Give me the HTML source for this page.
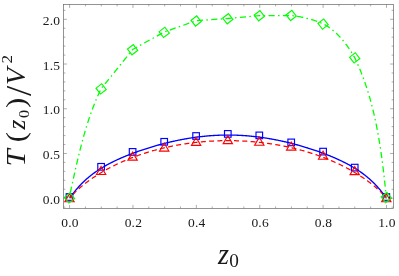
<!DOCTYPE html>
<html>
<head>
<meta charset="utf-8">
<title>T(z0)/V^2 vs z0</title>
<style>
html,body{margin:0;padding:0;background:#ffffff;}
body{width:399px;height:276px;overflow:hidden;font-family:"Liberation Serif",serif;}
svg{display:block;will-change:transform;opacity:0.999;}
</style>
</head>
<body>
<svg width="399" height="276" viewBox="0 0 399 276">
<rect x="0" y="0" width="399" height="276" fill="#ffffff"/>
<path d="M69.60,198.20 L70.39,197.09 L71.19,196.00 L71.98,194.94 L72.78,193.89 L73.57,192.87 L74.37,191.87 L75.16,190.89 L75.95,189.93 L76.75,189.00 L77.54,188.08 L78.34,187.19 L79.13,186.32 L79.93,185.46 L80.72,184.63 L81.51,183.81 L82.31,183.01 L83.10,182.24 L83.90,181.47 L84.69,180.73 L85.48,180.00 L86.28,179.28 L87.07,178.59 L87.87,177.90 L88.66,177.23 L89.46,176.58 L90.25,175.94 L91.04,175.31 L91.84,174.70 L92.63,174.09 L93.43,173.50 L94.22,172.92 L95.02,172.36 L95.81,171.80 L96.60,171.25 L97.40,170.71 L98.19,170.19 L98.99,169.67 L99.78,169.16 L100.58,168.66 L101.37,168.17 L102.16,167.69 L102.96,167.21 L103.75,166.74 L104.55,166.28 L105.34,165.83 L106.13,165.38 L106.93,164.94 L107.72,164.51 L108.52,164.09 L109.31,163.66 L110.11,163.25 L110.90,162.84 L111.69,162.44 L112.49,162.04 L113.28,161.65 L114.08,161.26 L114.87,160.88 L115.67,160.50 L116.46,160.13 L117.25,159.76 L118.05,159.40 L118.84,159.04 L119.64,158.68 L120.43,158.33 L121.23,157.98 L122.02,157.64 L122.81,157.30 L123.61,156.96 L124.40,156.63 L125.20,156.30 L125.99,155.97 L126.78,155.65 L127.58,155.33 L128.37,155.02 L129.17,154.70 L129.96,154.39 L130.76,154.09 L131.55,153.78 L132.34,153.48 L133.14,153.18 L133.93,152.89 L134.73,152.60 L135.52,152.31 L136.32,152.02 L137.11,151.74 L137.90,151.45 L138.70,151.18 L139.49,150.90 L140.29,150.62 L141.08,150.35 L141.88,150.08 L142.67,149.82 L143.46,149.55 L144.26,149.29 L145.05,149.03 L145.85,148.78 L146.64,148.52 L147.44,148.27 L148.23,148.02 L149.02,147.77 L149.82,147.53 L150.61,147.28 L151.41,147.04 L152.20,146.80 L152.99,146.57 L153.79,146.33 L154.58,146.10 L155.38,145.87 L156.17,145.65 L156.97,145.42 L157.76,145.20 L158.55,144.98 L159.35,144.76 L160.14,144.55 L160.94,144.33 L161.73,144.12 L162.53,143.91 L163.32,143.71 L164.11,143.50 L164.91,143.30 L165.70,143.10 L166.50,142.90 L167.29,142.71 L168.09,142.51 L168.88,142.32 L169.67,142.13 L170.47,141.95 L171.26,141.76 L172.06,141.58 L172.85,141.40 L173.64,141.23 L174.44,141.05 L175.23,140.88 L176.03,140.71 L176.82,140.54 L177.62,140.38 L178.41,140.21 L179.20,140.05 L180.00,139.90 L180.79,139.74 L181.59,139.59 L182.38,139.44 L183.18,139.29 L183.97,139.14 L184.76,139.00 L185.56,138.86 L186.35,138.72 L187.15,138.58 L187.94,138.45 L188.74,138.32 L189.53,138.19 L190.32,138.06 L191.12,137.94 L191.91,137.82 L192.71,137.70 L193.50,137.58 L194.29,137.47 L195.09,137.36 L195.88,137.25 L196.68,137.14 L197.47,137.04 L198.27,136.94 L199.06,136.84 L199.85,136.74 L200.65,136.65 L201.44,136.56 L202.24,136.47 L203.03,136.38 L203.83,136.30 L204.62,136.22 L205.41,136.14 L206.21,136.07 L207.00,136.00 L207.80,135.93 L208.59,135.86 L209.39,135.79 L210.18,135.73 L210.97,135.67 L211.77,135.62 L212.56,135.56 L213.36,135.51 L214.15,135.46 L214.95,135.42 L215.74,135.37 L216.53,135.33 L217.33,135.30 L218.12,135.26 L218.92,135.23 L219.71,135.20 L220.50,135.17 L221.30,135.15 L222.09,135.13 L222.89,135.11 L223.68,135.09 L224.48,135.08 L225.27,135.07 L226.06,135.06 L226.86,135.05 L227.65,135.05 L228.45,135.05 L229.24,135.05 L230.04,135.06 L230.83,135.07 L231.62,135.08 L232.42,135.09 L233.21,135.11 L234.01,135.13 L234.80,135.15 L235.60,135.17 L236.39,135.20 L237.18,135.23 L237.98,135.26 L238.77,135.30 L239.57,135.33 L240.36,135.37 L241.15,135.42 L241.95,135.46 L242.74,135.51 L243.54,135.56 L244.33,135.62 L245.13,135.67 L245.92,135.73 L246.71,135.79 L247.51,135.86 L248.30,135.93 L249.10,136.00 L249.89,136.07 L250.69,136.14 L251.48,136.22 L252.27,136.30 L253.07,136.38 L253.86,136.47 L254.66,136.56 L255.45,136.65 L256.25,136.74 L257.04,136.84 L257.83,136.94 L258.63,137.04 L259.42,137.14 L260.22,137.25 L261.01,137.36 L261.81,137.47 L262.60,137.58 L263.39,137.70 L264.19,137.82 L264.98,137.94 L265.78,138.06 L266.57,138.19 L267.36,138.32 L268.16,138.45 L268.95,138.58 L269.75,138.72 L270.54,138.86 L271.34,139.00 L272.13,139.14 L272.92,139.29 L273.72,139.44 L274.51,139.59 L275.31,139.74 L276.10,139.90 L276.90,140.05 L277.69,140.21 L278.48,140.38 L279.28,140.54 L280.07,140.71 L280.87,140.88 L281.66,141.05 L282.46,141.23 L283.25,141.40 L284.04,141.58 L284.84,141.76 L285.63,141.95 L286.43,142.13 L287.22,142.32 L288.01,142.51 L288.81,142.71 L289.60,142.90 L290.40,143.10 L291.19,143.30 L291.99,143.50 L292.78,143.71 L293.57,143.91 L294.37,144.12 L295.16,144.33 L295.96,144.55 L296.75,144.76 L297.55,144.98 L298.34,145.20 L299.13,145.42 L299.93,145.65 L300.72,145.87 L301.52,146.10 L302.31,146.33 L303.11,146.57 L303.90,146.80 L304.69,147.04 L305.49,147.28 L306.28,147.53 L307.08,147.77 L307.87,148.02 L308.66,148.27 L309.46,148.52 L310.25,148.78 L311.05,149.03 L311.84,149.29 L312.64,149.55 L313.43,149.82 L314.22,150.08 L315.02,150.35 L315.81,150.62 L316.61,150.90 L317.40,151.18 L318.20,151.45 L318.99,151.74 L319.78,152.02 L320.58,152.31 L321.37,152.60 L322.17,152.89 L322.96,153.18 L323.76,153.48 L324.55,153.78 L325.34,154.09 L326.14,154.39 L326.93,154.70 L327.73,155.02 L328.52,155.33 L329.32,155.65 L330.11,155.97 L330.90,156.30 L331.70,156.63 L332.49,156.96 L333.29,157.30 L334.08,157.64 L334.87,157.98 L335.67,158.33 L336.46,158.68 L337.26,159.04 L338.05,159.40 L338.85,159.76 L339.64,160.13 L340.43,160.50 L341.23,160.88 L342.02,161.26 L342.82,161.65 L343.61,162.04 L344.41,162.44 L345.20,162.84 L345.99,163.25 L346.79,163.66 L347.58,164.09 L348.38,164.51 L349.17,164.94 L349.97,165.38 L350.76,165.83 L351.55,166.28 L352.35,166.74 L353.14,167.21 L353.94,167.69 L354.73,168.17 L355.52,168.66 L356.32,169.16 L357.11,169.67 L357.91,170.19 L358.70,170.71 L359.50,171.25 L360.29,171.80 L361.08,172.36 L361.88,172.92 L362.67,173.50 L363.47,174.09 L364.26,174.70 L365.06,175.31 L365.85,175.94 L366.64,176.58 L367.44,177.23 L368.23,177.90 L369.03,178.59 L369.82,179.28 L370.62,180.00 L371.41,180.73 L372.20,181.47 L373.00,182.24 L373.79,183.01 L374.59,183.81 L375.38,184.63 L376.17,185.46 L376.97,186.32 L377.76,187.19 L378.56,188.08 L379.35,189.00 L380.15,189.93 L380.94,190.89 L381.73,191.87 L382.53,192.87 L383.32,193.89 L384.12,194.94 L384.91,196.00 L385.71,197.09 L386.50,198.20" fill="none" stroke="#0000ff" stroke-width="1.35"/>
<path d="M69.60,198.20 L70.39,197.26 L71.19,196.35 L71.98,195.47 L72.78,194.61 L73.57,193.77 L74.37,192.95 L75.16,192.16 L75.95,191.38 L76.75,190.62 L77.54,189.88 L78.34,189.15 L79.13,188.44 L79.93,187.74 L80.72,187.05 L81.51,186.38 L82.31,185.72 L83.10,185.07 L83.90,184.43 L84.69,183.80 L85.48,183.18 L86.28,182.57 L87.07,181.97 L87.87,181.38 L88.66,180.80 L89.46,180.23 L90.25,179.66 L91.04,179.10 L91.84,178.55 L92.63,178.01 L93.43,177.48 L94.22,176.95 L95.02,176.42 L95.81,175.91 L96.60,175.40 L97.40,174.90 L98.19,174.40 L98.99,173.91 L99.78,173.42 L100.58,172.94 L101.37,172.47 L102.16,172.00 L102.96,171.54 L103.75,171.08 L104.55,170.63 L105.34,170.18 L106.13,169.74 L106.93,169.30 L107.72,168.87 L108.52,168.44 L109.31,168.02 L110.11,167.60 L110.90,167.19 L111.69,166.78 L112.49,166.37 L113.28,165.97 L114.08,165.58 L114.87,165.19 L115.67,164.80 L116.46,164.42 L117.25,164.04 L118.05,163.66 L118.84,163.29 L119.64,162.92 L120.43,162.56 L121.23,162.20 L122.02,161.85 L122.81,161.50 L123.61,161.15 L124.40,160.81 L125.20,160.47 L125.99,160.13 L126.78,159.80 L127.58,159.47 L128.37,159.14 L129.17,158.82 L129.96,158.50 L130.76,158.19 L131.55,157.88 L132.34,157.57 L133.14,157.27 L133.93,156.97 L134.73,156.67 L135.52,156.38 L136.32,156.09 L137.11,155.80 L137.90,155.51 L138.70,155.23 L139.49,154.96 L140.29,154.68 L141.08,154.41 L141.88,154.14 L142.67,153.88 L143.46,153.62 L144.26,153.36 L145.05,153.10 L145.85,152.85 L146.64,152.60 L147.44,152.35 L148.23,152.11 L149.02,151.87 L149.82,151.63 L150.61,151.40 L151.41,151.17 L152.20,150.94 L152.99,150.71 L153.79,150.49 L154.58,150.27 L155.38,150.05 L156.17,149.84 L156.97,149.63 L157.76,149.42 L158.55,149.21 L159.35,149.01 L160.14,148.81 L160.94,148.61 L161.73,148.41 L162.53,148.22 L163.32,148.03 L164.11,147.84 L164.91,147.66 L165.70,147.48 L166.50,147.30 L167.29,147.12 L168.09,146.95 L168.88,146.78 L169.67,146.61 L170.47,146.44 L171.26,146.28 L172.06,146.12 L172.85,145.96 L173.64,145.80 L174.44,145.65 L175.23,145.50 L176.03,145.35 L176.82,145.20 L177.62,145.06 L178.41,144.92 L179.20,144.78 L180.00,144.64 L180.79,144.51 L181.59,144.38 L182.38,144.25 L183.18,144.12 L183.97,144.00 L184.76,143.88 L185.56,143.76 L186.35,143.64 L187.15,143.52 L187.94,143.41 L188.74,143.30 L189.53,143.19 L190.32,143.09 L191.12,142.98 L191.91,142.88 L192.71,142.78 L193.50,142.69 L194.29,142.59 L195.09,142.50 L195.88,142.41 L196.68,142.33 L197.47,142.24 L198.27,142.16 L199.06,142.08 L199.85,142.00 L200.65,141.92 L201.44,141.85 L202.24,141.78 L203.03,141.71 L203.83,141.64 L204.62,141.58 L205.41,141.51 L206.21,141.45 L207.00,141.40 L207.80,141.34 L208.59,141.29 L209.39,141.23 L210.18,141.18 L210.97,141.14 L211.77,141.09 L212.56,141.05 L213.36,141.01 L214.15,140.97 L214.95,140.93 L215.74,140.90 L216.53,140.87 L217.33,140.84 L218.12,140.81 L218.92,140.78 L219.71,140.76 L220.50,140.74 L221.30,140.72 L222.09,140.70 L222.89,140.69 L223.68,140.67 L224.48,140.66 L225.27,140.65 L226.06,140.65 L226.86,140.64 L227.65,140.64 L228.45,140.64 L229.24,140.64 L230.04,140.65 L230.83,140.65 L231.62,140.66 L232.42,140.67 L233.21,140.69 L234.01,140.70 L234.80,140.72 L235.60,140.74 L236.39,140.76 L237.18,140.78 L237.98,140.81 L238.77,140.84 L239.57,140.87 L240.36,140.90 L241.15,140.93 L241.95,140.97 L242.74,141.01 L243.54,141.05 L244.33,141.09 L245.13,141.14 L245.92,141.18 L246.71,141.23 L247.51,141.29 L248.30,141.34 L249.10,141.40 L249.89,141.45 L250.69,141.51 L251.48,141.58 L252.27,141.64 L253.07,141.71 L253.86,141.78 L254.66,141.85 L255.45,141.92 L256.25,142.00 L257.04,142.08 L257.83,142.16 L258.63,142.24 L259.42,142.33 L260.22,142.41 L261.01,142.50 L261.81,142.59 L262.60,142.69 L263.39,142.78 L264.19,142.88 L264.98,142.98 L265.78,143.09 L266.57,143.19 L267.36,143.30 L268.16,143.41 L268.95,143.52 L269.75,143.64 L270.54,143.76 L271.34,143.88 L272.13,144.00 L272.92,144.12 L273.72,144.25 L274.51,144.38 L275.31,144.51 L276.10,144.64 L276.90,144.78 L277.69,144.92 L278.48,145.06 L279.28,145.20 L280.07,145.35 L280.87,145.50 L281.66,145.65 L282.46,145.80 L283.25,145.96 L284.04,146.12 L284.84,146.28 L285.63,146.44 L286.43,146.61 L287.22,146.78 L288.01,146.95 L288.81,147.12 L289.60,147.30 L290.40,147.48 L291.19,147.66 L291.99,147.84 L292.78,148.03 L293.57,148.22 L294.37,148.41 L295.16,148.61 L295.96,148.81 L296.75,149.01 L297.55,149.21 L298.34,149.42 L299.13,149.63 L299.93,149.84 L300.72,150.05 L301.52,150.27 L302.31,150.49 L303.11,150.71 L303.90,150.94 L304.69,151.17 L305.49,151.40 L306.28,151.63 L307.08,151.87 L307.87,152.11 L308.66,152.35 L309.46,152.60 L310.25,152.85 L311.05,153.10 L311.84,153.36 L312.64,153.62 L313.43,153.88 L314.22,154.14 L315.02,154.41 L315.81,154.68 L316.61,154.96 L317.40,155.23 L318.20,155.51 L318.99,155.80 L319.78,156.09 L320.58,156.38 L321.37,156.67 L322.17,156.97 L322.96,157.27 L323.76,157.57 L324.55,157.88 L325.34,158.19 L326.14,158.50 L326.93,158.82 L327.73,159.14 L328.52,159.47 L329.32,159.80 L330.11,160.13 L330.90,160.47 L331.70,160.81 L332.49,161.15 L333.29,161.50 L334.08,161.85 L334.87,162.20 L335.67,162.56 L336.46,162.92 L337.26,163.29 L338.05,163.66 L338.85,164.04 L339.64,164.42 L340.43,164.80 L341.23,165.19 L342.02,165.58 L342.82,165.97 L343.61,166.37 L344.41,166.78 L345.20,167.19 L345.99,167.60 L346.79,168.02 L347.58,168.44 L348.38,168.87 L349.17,169.30 L349.97,169.74 L350.76,170.18 L351.55,170.63 L352.35,171.08 L353.14,171.54 L353.94,172.00 L354.73,172.47 L355.52,172.94 L356.32,173.42 L357.11,173.91 L357.91,174.40 L358.70,174.90 L359.50,175.40 L360.29,175.91 L361.08,176.42 L361.88,176.95 L362.67,177.48 L363.47,178.01 L364.26,178.55 L365.06,179.10 L365.85,179.66 L366.64,180.23 L367.44,180.80 L368.23,181.38 L369.03,181.97 L369.82,182.57 L370.62,183.18 L371.41,183.80 L372.20,184.43 L373.00,185.07 L373.79,185.72 L374.59,186.38 L375.38,187.05 L376.17,187.74 L376.97,188.44 L377.76,189.15 L378.56,189.88 L379.35,190.62 L380.15,191.38 L380.94,192.16 L381.73,192.95 L382.53,193.77 L383.32,194.61 L384.12,195.47 L384.91,196.35 L385.71,197.26 L386.50,198.20" fill="none" stroke="#ff0000" stroke-width="1.25" stroke-dasharray="5.0 3.3" stroke-dashoffset="3.43"/>
<path d="M69.00,198.20 L69.43,196.31 L69.86,194.42 L70.28,192.53 L70.71,190.64 L71.13,188.75 L71.55,186.85 L71.97,184.96 L72.39,183.07 L72.81,181.17 L73.23,179.28 L73.66,177.39 L74.08,175.49 L74.50,173.60 L74.93,171.71 L75.35,169.81 L75.78,167.92 L76.22,166.03 L76.65,164.14 L77.09,162.25 L77.53,160.36 L77.98,158.47 L78.43,156.59 L78.88,154.70 L79.34,152.82 L79.81,150.94 L80.28,149.06 L80.75,147.18 L81.24,145.30 L81.73,143.43 L82.22,141.56 L82.73,139.69 L83.24,137.82 L83.76,135.95 L84.28,134.09 L84.82,132.23 L85.36,130.37 L85.92,128.52 L86.48,126.67 L87.05,124.82 L87.64,122.98 L88.23,121.14 L88.84,119.30 L89.45,117.46 L90.08,115.63 L90.72,113.81 L91.37,111.98 L92.04,110.17 L92.71,108.35 L93.40,106.54 L94.11,104.74 L94.82,102.93 L95.55,101.14 L96.30,99.35 L97.06,97.56 L97.84,95.78 L98.63,94.00 L99.44,92.23 L100.26,90.46 L101.10,88.70 L101.64,88.04 L102.18,87.37 L102.72,86.71 L103.26,86.05 L103.80,85.39 L104.34,84.72 L104.88,84.06 L105.41,83.39 L105.95,82.73 L106.49,82.07 L107.03,81.40 L107.57,80.74 L108.11,80.08 L108.64,79.41 L109.18,78.75 L109.72,78.08 L110.26,77.42 L110.79,76.75 L111.33,76.09 L111.87,75.42 L112.40,74.76 L112.94,74.09 L113.48,73.43 L114.01,72.76 L114.55,72.10 L115.09,71.43 L115.62,70.77 L116.16,70.10 L116.69,69.43 L117.23,68.77 L117.77,68.10 L118.30,67.43 L118.84,66.77 L119.37,66.10 L119.91,65.44 L120.44,64.77 L120.98,64.10 L121.51,63.43 L122.04,62.77 L122.58,62.10 L123.11,61.43 L123.65,60.77 L124.18,60.10 L124.71,59.43 L125.25,58.76 L125.78,58.09 L126.31,57.43 L126.85,56.76 L127.38,56.09 L127.91,55.42 L128.44,54.75 L128.98,54.08 L129.51,53.42 L130.04,52.75 L130.57,52.08 L131.11,51.41 L131.64,50.74 L132.17,50.07 L132.70,49.40 L164.30,32.00 L196.10,20.70 L227.80,18.50 L259.40,15.70 L291.20,15.50 L291.76,15.56 L292.32,15.63 L292.88,15.70 L293.44,15.77 L293.99,15.84 L294.55,15.92 L295.11,16.00 L295.66,16.08 L296.22,16.16 L296.77,16.25 L297.32,16.34 L297.88,16.43 L298.43,16.52 L298.98,16.62 L299.53,16.72 L300.08,16.82 L300.63,16.93 L301.18,17.04 L301.73,17.15 L302.27,17.26 L302.82,17.37 L303.37,17.49 L303.91,17.61 L304.46,17.74 L305.00,17.86 L305.54,17.99 L306.09,18.12 L306.63,18.26 L307.17,18.39 L307.71,18.53 L308.25,18.67 L308.79,18.82 L309.33,18.96 L309.87,19.11 L310.40,19.27 L310.94,19.42 L311.48,19.58 L312.01,19.74 L312.55,19.90 L313.08,20.07 L313.61,20.23 L314.15,20.40 L314.68,20.58 L315.21,20.75 L315.74,20.93 L316.27,21.11 L316.80,21.29 L317.33,21.48 L317.86,21.67 L318.38,21.86 L318.91,22.05 L319.44,22.25 L319.96,22.45 L320.49,22.65 L321.01,22.86 L321.53,23.06 L322.06,23.27 L322.58,23.49 L323.10,23.70 L323.80,24.08 L324.49,24.48 L325.18,24.88 L325.86,25.29 L326.54,25.71 L327.21,26.14 L327.87,26.57 L328.53,27.02 L329.18,27.48 L329.82,27.94 L330.46,28.41 L331.09,28.89 L331.72,29.38 L332.34,29.87 L332.95,30.37 L333.56,30.88 L334.16,31.40 L334.75,31.92 L335.34,32.45 L335.93,32.99 L336.51,33.53 L337.08,34.08 L337.65,34.64 L338.21,35.20 L338.77,35.77 L339.32,36.34 L339.86,36.92 L340.40,37.51 L340.94,38.10 L341.47,38.70 L341.99,39.30 L342.51,39.91 L343.02,40.52 L343.53,41.13 L344.03,41.75 L344.53,42.38 L345.02,43.01 L345.51,43.64 L345.99,44.28 L346.47,44.92 L346.94,45.56 L347.41,46.21 L347.87,46.86 L348.33,47.51 L348.78,48.17 L349.23,48.83 L349.68,49.49 L350.11,50.16 L350.55,50.83 L350.98,51.50 L351.40,52.17 L351.83,52.84 L352.24,53.52 L352.65,54.20 L353.06,54.87 L353.47,55.55 L353.86,56.23 L354.26,56.92 L354.65,57.60 L355.70,59.83 L356.73,62.06 L357.74,64.30 L358.72,66.56 L359.67,68.82 L360.60,71.09 L361.51,73.37 L362.40,75.65 L363.26,77.95 L364.10,80.25 L364.92,82.56 L365.71,84.87 L366.49,87.20 L367.24,89.53 L367.98,91.86 L368.69,94.21 L369.39,96.56 L370.07,98.91 L370.72,101.28 L371.36,103.64 L371.99,106.02 L372.59,108.40 L373.18,110.78 L373.75,113.17 L374.30,115.56 L374.84,117.96 L375.37,120.36 L375.88,122.76 L376.37,125.17 L376.85,127.59 L377.32,130.00 L377.77,132.42 L378.21,134.84 L378.64,137.27 L379.05,139.70 L379.45,142.13 L379.85,144.56 L380.23,146.99 L380.60,149.43 L380.96,151.87 L381.31,154.31 L381.65,156.75 L381.98,159.19 L382.30,161.63 L382.62,164.07 L382.93,166.51 L383.23,168.96 L383.52,171.40 L383.81,173.84 L384.09,176.28 L384.36,178.72 L384.63,181.16 L384.90,183.60 L385.15,186.04 L385.41,188.48 L385.66,190.91 L385.91,193.34 L386.16,195.77 L386.40,198.20" fill="none" stroke="#00ff00" stroke-width="1.3" stroke-dasharray="6.2 3.33 1.5 3.33" stroke-dashoffset="8.69"/>
<rect x="66.20" y="193.70" width="6.6" height="6.6" fill="none" stroke="#0000ff" stroke-width="1.15"/>
<rect x="97.80" y="163.50" width="6.6" height="6.6" fill="none" stroke="#0000ff" stroke-width="1.15"/>
<rect x="129.30" y="148.60" width="6.6" height="6.6" fill="none" stroke="#0000ff" stroke-width="1.15"/>
<rect x="160.90" y="138.50" width="6.6" height="6.6" fill="none" stroke="#0000ff" stroke-width="1.15"/>
<rect x="192.80" y="132.70" width="6.6" height="6.6" fill="none" stroke="#0000ff" stroke-width="1.15"/>
<rect x="224.50" y="130.60" width="6.6" height="6.6" fill="none" stroke="#0000ff" stroke-width="1.15"/>
<rect x="256.00" y="132.10" width="6.6" height="6.6" fill="none" stroke="#0000ff" stroke-width="1.15"/>
<rect x="287.90" y="139.10" width="6.6" height="6.6" fill="none" stroke="#0000ff" stroke-width="1.15"/>
<rect x="319.80" y="148.30" width="6.6" height="6.6" fill="none" stroke="#0000ff" stroke-width="1.15"/>
<rect x="351.40" y="164.30" width="6.6" height="6.6" fill="none" stroke="#0000ff" stroke-width="1.15"/>
<rect x="383.00" y="193.70" width="6.6" height="6.6" fill="none" stroke="#0000ff" stroke-width="1.15"/>
<path d="M69.50,193.73 L74.15,201.78 L64.85,201.78 Z" fill="none" stroke="#ff0000" stroke-width="1.15"/>
<path d="M101.10,166.43 L105.75,174.48 L96.45,174.48 Z" fill="none" stroke="#ff0000" stroke-width="1.15"/>
<path d="M132.60,152.13 L137.25,160.18 L127.95,160.18 Z" fill="none" stroke="#ff0000" stroke-width="1.15"/>
<path d="M164.20,143.03 L168.85,151.08 L159.55,151.08 Z" fill="none" stroke="#ff0000" stroke-width="1.15"/>
<path d="M196.10,137.33 L200.75,145.38 L191.45,145.38 Z" fill="none" stroke="#ff0000" stroke-width="1.15"/>
<path d="M227.80,135.63 L232.45,143.68 L223.15,143.68 Z" fill="none" stroke="#ff0000" stroke-width="1.15"/>
<path d="M259.30,137.23 L263.95,145.28 L254.65,145.28 Z" fill="none" stroke="#ff0000" stroke-width="1.15"/>
<path d="M291.20,142.03 L295.85,150.08 L286.55,150.08 Z" fill="none" stroke="#ff0000" stroke-width="1.15"/>
<path d="M323.10,151.23 L327.75,159.28 L318.45,159.28 Z" fill="none" stroke="#ff0000" stroke-width="1.15"/>
<path d="M354.70,166.63 L359.35,174.68 L350.05,174.68 Z" fill="none" stroke="#ff0000" stroke-width="1.15"/>
<path d="M386.30,193.73 L390.95,201.78 L381.65,201.78 Z" fill="none" stroke="#ff0000" stroke-width="1.15"/>
<rect x="-3.65" y="-3.65" width="7.3" height="7.3" transform="translate(69.50,197.90) rotate(-38)" fill="none" stroke="#00ff00" stroke-width="1.15"/>
<rect x="-3.65" y="-3.65" width="7.3" height="7.3" transform="translate(101.10,88.90) rotate(-38)" fill="none" stroke="#00ff00" stroke-width="1.15"/>
<rect x="-3.65" y="-3.65" width="7.3" height="7.3" transform="translate(132.60,49.80) rotate(-38)" fill="none" stroke="#00ff00" stroke-width="1.15"/>
<rect x="-3.65" y="-3.65" width="7.3" height="7.3" transform="translate(164.20,32.40) rotate(-38)" fill="none" stroke="#00ff00" stroke-width="1.15"/>
<rect x="-3.65" y="-3.65" width="7.3" height="7.3" transform="translate(196.10,21.00) rotate(-38)" fill="none" stroke="#00ff00" stroke-width="1.15"/>
<rect x="-3.65" y="-3.65" width="7.3" height="7.3" transform="translate(227.80,18.70) rotate(-38)" fill="none" stroke="#00ff00" stroke-width="1.15"/>
<rect x="-3.65" y="-3.65" width="7.3" height="7.3" transform="translate(259.30,15.70) rotate(-38)" fill="none" stroke="#00ff00" stroke-width="1.15"/>
<rect x="-3.65" y="-3.65" width="7.3" height="7.3" transform="translate(291.20,15.50) rotate(-38)" fill="none" stroke="#00ff00" stroke-width="1.15"/>
<rect x="-3.65" y="-3.65" width="7.3" height="7.3" transform="translate(323.10,24.10) rotate(-38)" fill="none" stroke="#00ff00" stroke-width="1.15"/>
<rect x="-3.65" y="-3.65" width="7.3" height="7.3" transform="translate(354.70,57.90) rotate(-38)" fill="none" stroke="#00ff00" stroke-width="1.15"/>
<rect x="-3.65" y="-3.65" width="7.3" height="7.3" transform="translate(386.30,197.50) rotate(-38)" fill="none" stroke="#00ff00" stroke-width="1.15"/>
<rect x="63.5" y="4.5" width="330.0" height="203.85" fill="none" stroke="#666666" stroke-width="0.7"/>
<path d="M69.60,208.35 v-3.4 M69.60,4.5 v3.4 M85.44,208.35 v-1.9 M85.44,4.5 v1.9 M101.29,208.35 v-1.9 M101.29,4.5 v1.9 M117.13,208.35 v-1.9 M117.13,4.5 v1.9 M132.98,208.35 v-3.4 M132.98,4.5 v3.4 M148.82,208.35 v-1.9 M148.82,4.5 v1.9 M164.67,208.35 v-1.9 M164.67,4.5 v1.9 M180.51,208.35 v-1.9 M180.51,4.5 v1.9 M196.36,208.35 v-3.4 M196.36,4.5 v3.4 M212.20,208.35 v-1.9 M212.20,4.5 v1.9 M228.05,208.35 v-1.9 M228.05,4.5 v1.9 M243.89,208.35 v-1.9 M243.89,4.5 v1.9 M259.74,208.35 v-3.4 M259.74,4.5 v3.4 M275.58,208.35 v-1.9 M275.58,4.5 v1.9 M291.43,208.35 v-1.9 M291.43,4.5 v1.9 M307.27,208.35 v-1.9 M307.27,4.5 v1.9 M323.12,208.35 v-3.4 M323.12,4.5 v3.4 M338.97,208.35 v-1.9 M338.97,4.5 v1.9 M354.81,208.35 v-1.9 M354.81,4.5 v1.9 M370.65,208.35 v-1.9 M370.65,4.5 v1.9 M386.50,208.35 v-3.4 M386.50,4.5 v3.4 M63.5,207.14 h1.9 M393.5,207.14 h-1.9 M63.5,198.20 h3.4 M393.5,198.20 h-3.4 M63.5,189.25 h1.9 M393.5,189.25 h-1.9 M63.5,180.31 h1.9 M393.5,180.31 h-1.9 M63.5,171.36 h1.9 M393.5,171.36 h-1.9 M63.5,162.42 h1.9 M393.5,162.42 h-1.9 M63.5,153.47 h3.4 M393.5,153.47 h-3.4 M63.5,144.53 h1.9 M393.5,144.53 h-1.9 M63.5,135.58 h1.9 M393.5,135.58 h-1.9 M63.5,126.64 h1.9 M393.5,126.64 h-1.9 M63.5,117.69 h1.9 M393.5,117.69 h-1.9 M63.5,108.75 h3.4 M393.5,108.75 h-3.4 M63.5,99.80 h1.9 M393.5,99.80 h-1.9 M63.5,90.86 h1.9 M393.5,90.86 h-1.9 M63.5,81.91 h1.9 M393.5,81.91 h-1.9 M63.5,72.97 h1.9 M393.5,72.97 h-1.9 M63.5,64.02 h3.4 M393.5,64.02 h-3.4 M63.5,55.08 h1.9 M393.5,55.08 h-1.9 M63.5,46.13 h1.9 M393.5,46.13 h-1.9 M63.5,37.19 h1.9 M393.5,37.19 h-1.9 M63.5,28.24 h1.9 M393.5,28.24 h-1.9 M63.5,19.30 h3.4 M393.5,19.30 h-3.4 M63.5,10.35 h1.9 M393.5,10.35 h-1.9" fill="none" stroke="#6a6a6a" stroke-width="0.55"/>
<text x="70.00" y="227.0" text-anchor="middle" font-family="Liberation Serif, serif" font-size="13.5" fill="#1a1a1a" letter-spacing="0.2">0.0</text>
<text x="133.38" y="227.0" text-anchor="middle" font-family="Liberation Serif, serif" font-size="13.5" fill="#1a1a1a" letter-spacing="0.2">0.2</text>
<text x="196.76" y="227.0" text-anchor="middle" font-family="Liberation Serif, serif" font-size="13.5" fill="#1a1a1a" letter-spacing="0.2">0.4</text>
<text x="260.14" y="227.0" text-anchor="middle" font-family="Liberation Serif, serif" font-size="13.5" fill="#1a1a1a" letter-spacing="0.2">0.6</text>
<text x="323.52" y="227.0" text-anchor="middle" font-family="Liberation Serif, serif" font-size="13.5" fill="#1a1a1a" letter-spacing="0.2">0.8</text>
<text x="386.90" y="227.0" text-anchor="middle" font-family="Liberation Serif, serif" font-size="13.5" fill="#1a1a1a" letter-spacing="0.2">1.0</text>
<text x="60.2" y="203.80" text-anchor="end" font-family="Liberation Serif, serif" font-size="13.5" fill="#1a1a1a" letter-spacing="0.2">0.0</text>
<text x="60.2" y="159.07" text-anchor="end" font-family="Liberation Serif, serif" font-size="13.5" fill="#1a1a1a" letter-spacing="0.2">0.5</text>
<text x="60.2" y="114.35" text-anchor="end" font-family="Liberation Serif, serif" font-size="13.5" fill="#1a1a1a" letter-spacing="0.2">1.0</text>
<text x="60.2" y="69.62" text-anchor="end" font-family="Liberation Serif, serif" font-size="13.5" fill="#1a1a1a" letter-spacing="0.2">1.5</text>
<text x="60.2" y="24.90" text-anchor="end" font-family="Liberation Serif, serif" font-size="13.5" fill="#1a1a1a" letter-spacing="0.2">2.0</text>
<text transform="translate(217.9,263.6) scale(0.94,1)" font-family="Liberation Serif, serif" font-style="italic" font-size="30" fill="#1a1a1a">z</text>
<text transform="translate(229.2,267.1) scale(1.06,1)" font-family="Liberation Serif, serif" font-size="18.2" fill="#1a1a1a">0</text>
<g transform="translate(25.3,165.5) rotate(-90)" fill="#1a1a1a">
<text transform="translate(-0.90,0.00) scale(1.1,1)" x="0" y="0" font-family="Liberation Serif, serif" font-style="italic" font-size="28">T</text>
<text transform="translate(23.20,0.00) scale(1.1,1)" x="0" y="0" font-family="Liberation Serif, serif" font-size="28">(</text>
<text transform="translate(36.00,0.00) scale(0.97,1)" x="0" y="0" font-family="Liberation Serif, serif" font-style="italic" font-size="26">z</text>
<text transform="translate(47.40,3.40) scale(1.12,1)" x="0" y="0" font-family="Liberation Serif, serif" font-size="14.5">0</text>
<text transform="translate(57.50,0.00) scale(1.1,1)" x="0" y="0" font-family="Liberation Serif, serif" font-size="28">)</text>
<text transform="translate(69.50,5.70) scale(1.0,1)" x="0" y="0" font-family="Liberation Serif, serif" font-size="36.5">/</text>
<text transform="translate(80.50,0.00) scale(1.0,1)" x="0" y="0" font-family="Liberation Serif, serif" font-style="italic" font-size="28">V</text>
<text transform="translate(101.90,-13.60) scale(1.18,1)" x="0" y="0" font-family="Liberation Serif, serif" font-size="14.5">2</text>
</g>
</svg>
</body>
</html>
